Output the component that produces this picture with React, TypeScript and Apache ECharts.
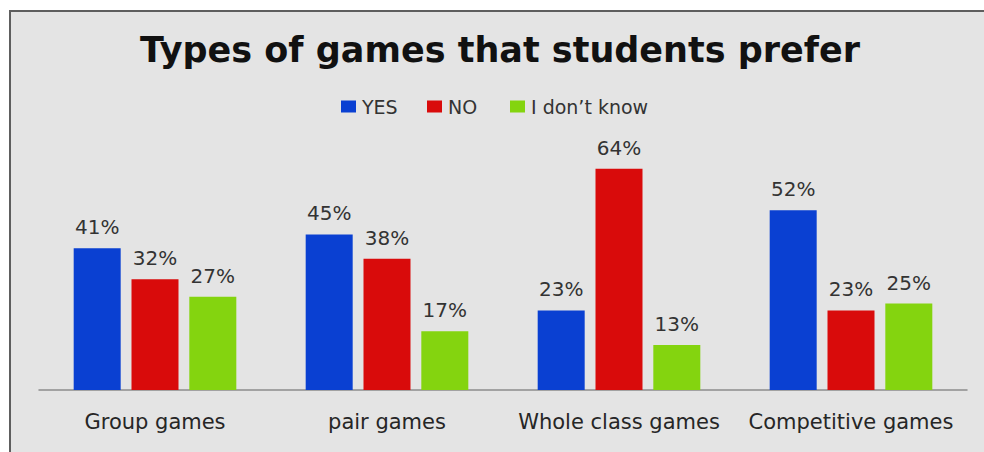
import React, { useEffect, useRef } from "react";
import * as echarts from "echarts";

const categories = ["Group games", "pair games", "Whole class games", "Competitive games"];
const seriesNames = ["YES", "NO", "I don\u2019t know"];
const yesValues = [41, 45, 23, 52];
const noValues = [32, 38, 64, 23];
const dontKnowValues = [27, 17, 13, 25];
const colors = ["#0a40d2", "#d90b0b", "#84d40f"];
const titleText = "Types of games that students prefer";

const FONT = "DejaVu Sans";

export default function App() {
  const ref = useRef<HTMLDivElement>(null);
  useEffect(() => {
    document.body.style.margin = "0";
    if (!ref.current) return;
    const chart = echarts.init(ref.current, null, { renderer: "svg" });
    const values = [yesValues, noValues, dontKnowValues];
    const legendLefts = [341, 427, 510];
    chart.setOption({
      animation: false,
      backgroundColor: "#ffffff",
      graphic: [
        {
          type: "rect",
          z: -10,
          silent: true,
          shape: { x: 10, y: 11, width: 1000, height: 500 },
          style: { fill: "#e4e4e4", stroke: "#5e5e5e", lineWidth: 2 },
        },
      ],
      title: {
        text: titleText,
        left: 500,
        textAlign: "center",
        top: 32,
        padding: 0,
        textStyle: { fontFamily: FONT, fontWeight: "bold", fontSize: 35, color: "#111111" },
      },
      legend: seriesNames.map((n, i) => ({
        data: [n],
        left: legendLefts[i],
        top: 97,
        padding: 0,
        itemWidth: 15,
        itemHeight: 12,
        icon: "rect",
        textStyle: { fontFamily: FONT, fontSize: 19, color: "#333333", padding: [0, 0, 0, 1] },
      })),
      grid: { left: 39, right: 17, top: 148, bottom: 62, containLabel: false },
      xAxis: {
        type: "category",
        data: categories,
        axisLine: { show: true, lineStyle: { color: "#8c8c8c", width: 1.5 } },
        axisTick: { show: false },
        axisLabel: { margin: 21, fontFamily: FONT, fontSize: 21, color: "#262626", interval: 0 },
      },
      yAxis: {
        type: "value",
        min: 0,
        max: 70,
        show: false,
        splitLine: { show: false },
      },
      series: seriesNames.map((n, i) => ({
        name: n,
        type: "bar",
        data: values[i],
        barWidth: 47,
        barGap: "23%",
        itemStyle: { color: colors[i] },
        label: {
          show: true,
          position: "top",
          distance: 11,
          formatter: "{c}%",
          fontFamily: FONT,
          fontSize: 20,
          color: "#333333",
        },
      })),
    });
    return () => chart.dispose();
  }, []);
  return <div ref={ref} style={{ width: 984, height: 452 }} />;
}
